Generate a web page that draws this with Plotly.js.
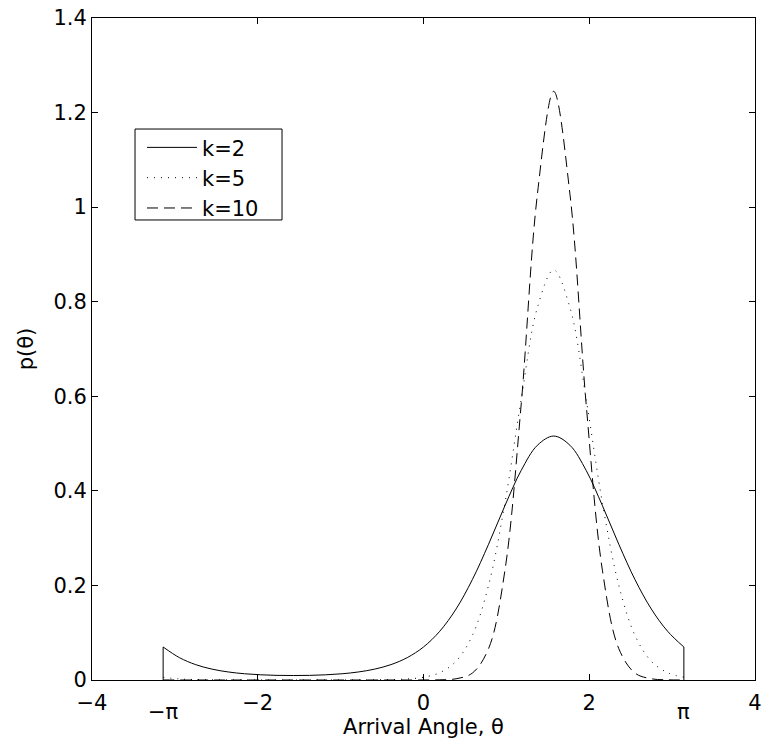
<!DOCTYPE html>
<html>
<head>
<meta charset="utf-8">
<script src="https://cdn.plot.ly/plotly-3.0.1.min.js"></script>
<style>html,body{margin:0;padding:0;background:#fff;}#chart{width:763px;height:749px;}</style>
</head>
<body>
<div id="chart"></div>
<script>
// Arrival angle theta (rad), from -pi to pi
var theta = [-3.1416, -2.9452, -2.7489, -2.5525, -2.3562, -2.1598, -1.9635, -1.7671, -1.5708,
  -1.3744, -1.1781, -0.9817, -0.7854, -0.5890, -0.3927, -0.1963, 0,
  0.1963, 0.3927, 0.5890, 0.7854, 0.9817, 1.1781, 1.3744, 1.5708,
  1.7671, 1.9635, 2.1598, 2.3562, 2.5525, 2.7489, 2.9452, 3.1416];

// p(theta) for k=2
var pK2 = [0.0698, 0.0473, 0.0325, 0.0230, 0.0170, 0.0132, 0.0110, 0.0098, 0.0095,
  0.0098, 0.0110, 0.0132, 0.0170, 0.0230, 0.0325, 0.0473, 0.0698,
  0.1031, 0.1501, 0.2121, 0.2872, 0.3683, 0.4430, 0.4964, 0.5159,
  0.4964, 0.4430, 0.3683, 0.2872, 0.2121, 0.1501, 0.1031, 0.0698];

// p(theta) for k=5
var pK5 = [0.0058, 0.0022, 0.0009, 0.0004, 0.0002, 0.0001, 0.0001, 0.0000, 0.0000,
  0.0000, 0.0001, 0.0001, 0.0002, 0.0004, 0.0009, 0.0022, 0.0058,
  0.0155, 0.0396, 0.0940, 0.2005, 0.3734, 0.5927, 0.7877, 0.8672,
  0.7877, 0.5927, 0.3734, 0.2005, 0.0940, 0.0396, 0.0155, 0.0058];

// p(theta) for k=10
var pK10 = [0.0001, 0, 0, 0, 0, 0, 0, 0, 0,
  0, 0, 0, 0, 0, 0, 0, 0.0001,
  0.0004, 0.0026, 0.0146, 0.0665, 0.2308, 0.5816, 1.0274, 1.2450,
  1.0274, 0.5816, 0.2308, 0.0665, 0.0146, 0.0026, 0.0004, 0.0001];

var seriesNames = ['k=2', 'k=5', 'k=10'];
var xTicks = [-4, -2, 0, 2, 4];
var yTicks = [0, 0.2, 0.4, 0.6, 0.8, 1, 1.2, 1.4];
var piLabels = ['\u2212\u03c0', '\u03c0'];

var FONT = 'DejaVu Sans, Liberation Sans, Arial, sans-serif';
var FS = 21;
var last = theta.length - 1;

var traces = [
  {x: theta, y: pK2, name: seriesNames[0], mode: 'lines',
   line: {color: '#000', width: 1, shape: 'spline'}},
  {x: theta, y: pK5, name: seriesNames[1], mode: 'lines',
   line: {color: '#000', width: 1, dash: '1px,6px', shape: 'spline'}},
  {x: theta, y: pK10, name: seriesNames[2], mode: 'lines',
   line: {color: '#000', width: 1, dash: '11px,6px', shape: 'spline'}},
  {x: [theta[0], theta[0]], y: [0, pK2[0]], mode: 'lines', showlegend: false,
   line: {color: '#000', width: 1}},
  {x: [theta[last], theta[last]], y: [0, pK2[last]], mode: 'lines', showlegend: false,
   line: {color: '#000', width: 1}}
];

var layout = {
  width: 763, height: 749,
  margin: {l: 92, r: 8, t: 18, b: 69},
  paper_bgcolor: '#fff', plot_bgcolor: '#fff',
  font: {family: FONT, size: FS, color: '#000'},
  showlegend: true,
  legend: {x: 0.0754, y: 0.835, xanchor: 'left', yanchor: 'top',
    bgcolor: 'rgba(0,0,0,0)', borderwidth: 0, tracegroupgap: 0,
    itemwidth: 50,
    font: {family: FONT, size: FS, color: '#000'}},
  shapes: [
    {type: 'rect', xref: 'paper', yref: 'paper', x0: 0.0649, x1: 0.2866, y0: 0.6949, y1: 0.8323,
     line: {color: '#000', width: 1}, fillcolor: '#fff', layer: 'above'}
  ],
  xaxis: {range: [-4, 4], tickvals: xTicks, ticks: 'inside', ticklen: 6, tickcolor: '#000',
    showline: true, linecolor: '#000', linewidth: 1, mirror: 'ticks', showgrid: false, zeroline: false,
    tickfont: {family: FONT, size: FS}, ticklabelstandoff: 4,
    title: {text: 'Arrival Angle, \u03b8', font: {family: FONT, size: FS}, standoff: 4}},
  yaxis: {range: [0, 1.4], tickvals: yTicks, ticks: 'inside', ticklen: 6, tickcolor: '#000',
    showline: true, linecolor: '#000', linewidth: 1, mirror: 'ticks', showgrid: false, zeroline: false,
    tickfont: {family: FONT, size: FS},
    title: {text: 'p(\u03b8)', font: {family: FONT, size: FS}, standoff: 14}},
  annotations: [
    {x: theta[0], y: -0.048, xref: 'x', yref: 'paper', text: piLabels[0], showarrow: false,
     xanchor: 'center', yanchor: 'middle', font: {family: FONT, size: FS}},
    {x: theta[last], y: -0.048, xref: 'x', yref: 'paper', text: piLabels[1], showarrow: false,
     xanchor: 'center', yanchor: 'middle', font: {family: FONT, size: FS}}
  ]
};

Plotly.newPlot('chart', traces, layout, {displayModeBar: false, staticPlot: true});
</script>
</body>
</html>
